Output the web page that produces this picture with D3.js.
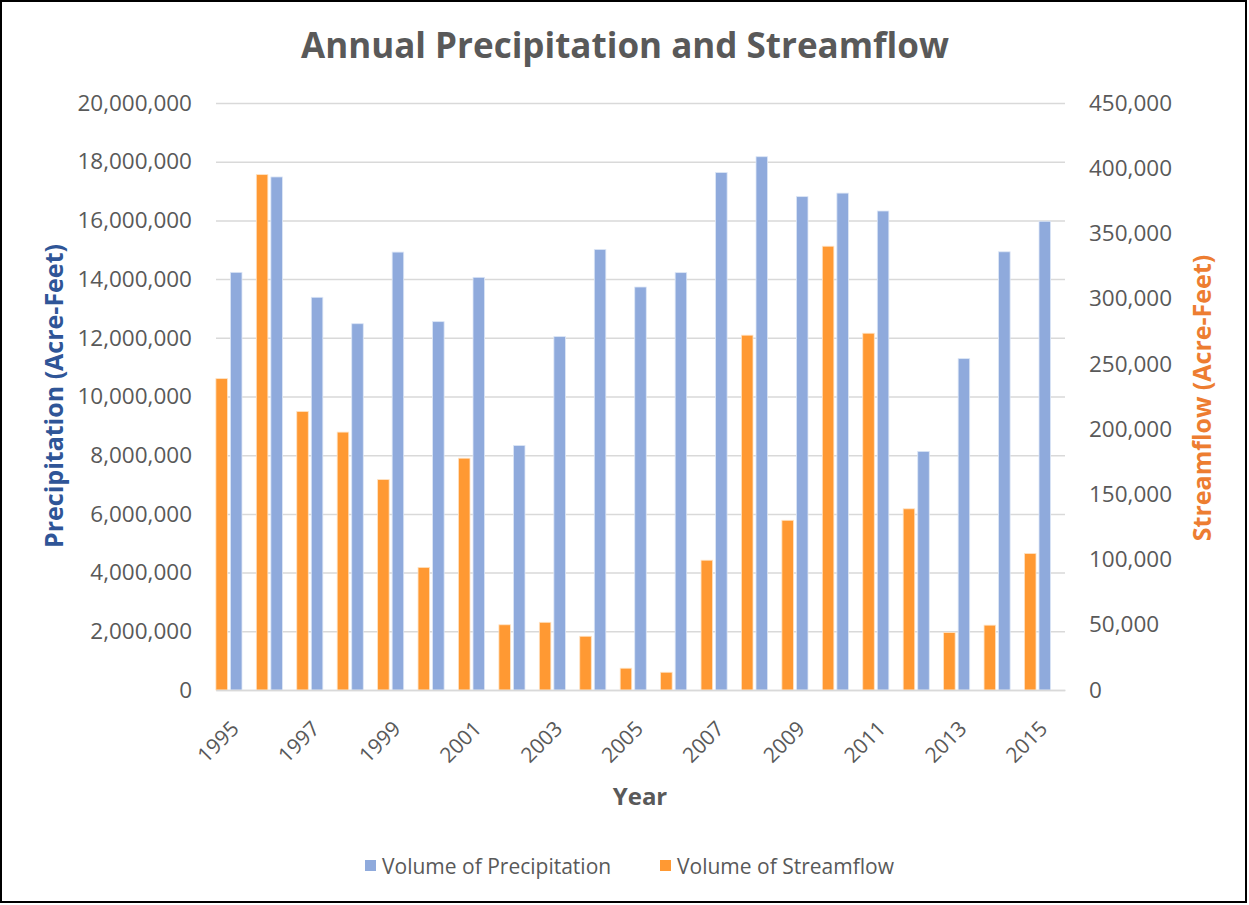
<!DOCTYPE html>
<html>
<head>
<meta charset="utf-8">
<script src="https://cdn.jsdelivr.net/npm/d3@7"></script>
<style>
  html, body { margin: 0; padding: 0; background: #fff; }
  svg { display: block; font-family: "Open Sans", "Noto Sans", sans-serif; }
</style>
</head>
<body>
<svg id="chart" width="1249" height="905"></svg>
<script>
const years = [1995,1996,1997,1998,1999,2000,2001,2002,2003,2004,2005,2006,2007,2008,2009,2010,2011,2012,2013,2014,2015];
const precipitation = [14230000,17480000,13380000,12480000,14920000,12550000,14060000,8330000,12040000,15010000,13730000,14220000,17630000,18170000,16810000,16930000,16320000,8130000,11290000,14930000,15970000];
const streamflow = [238700,395100,213500,197700,161300,94000,177700,50000,51900,41200,16700,13600,99500,272000,130100,340200,273500,138900,44000,49700,104600];
const leftTicks = [0,2000000,4000000,6000000,8000000,10000000,12000000,14000000,16000000,18000000,20000000];
const rightTicks = [0,50000,100000,150000,200000,250000,300000,350000,400000,450000];
const yearLabels = [1995,1997,1999,2001,2003,2005,2007,2009,2011,2013,2015];
const seriesNames = ["Volume of Precipitation", "Volume of Streamflow"];

const blue = "#8FAADC", orange = "#FF9933", textGrey = "#595959";
const svg = d3.select("#chart");

// frame
svg.append("rect").attr("x",1).attr("y",1).attr("width",1245).attr("height",901)
  .attr("fill","#fff").attr("stroke","#000").attr("stroke-width",2);

const plotLeft = 216, plotRight = 1065, plotTop = 103, plotBottom = 690;
const x = d3.scaleBand().domain(years).range([plotLeft,plotRight]).padding(0);
const yL = d3.scaleLinear().domain([0,20000000]).range([plotBottom,plotTop]);
const yR = d3.scaleLinear().domain([0,450000]).range([plotBottom,plotTop]);

// gridlines
svg.append("g").attr("transform",`translate(${plotLeft},0)`)
  .call(d3.axisLeft(yL).tickValues(leftTicks).tickSize(-(plotRight-plotLeft)).tickFormat(""))
  .call(g => g.select(".domain").remove())
  .call(g => g.selectAll("line").attr("stroke","#D9D9D9").attr("stroke-width",1.5));

// left axis labels
svg.append("g").attr("transform",`translate(${plotLeft},0)`)
  .call(d3.axisLeft(yL).tickValues(leftTicks).tickSize(0).tickPadding(24).tickFormat(d3.format(",")))
  .call(g => g.select(".domain").remove())
  .call(g => g.selectAll("text").attr("fill",textGrey).style("font-size","22.5px").style("font-family","'Open Sans', sans-serif"));

// right axis labels
svg.append("g").attr("transform",`translate(${plotRight},0)`)
  .call(d3.axisRight(yR).tickValues(rightTicks).tickSize(0).tickPadding(24).tickFormat(d3.format(",")))
  .call(g => g.select(".domain").remove())
  .call(g => g.selectAll("text").attr("fill",textGrey).style("font-size","22.5px").style("font-family","'Open Sans', sans-serif"));

const bw = x.bandwidth();
const barW = bw * 0.285;
const shift = bw * 0.36;

// streamflow bars (secondary axis)
svg.append("g").selectAll("rect").data(years).join("rect")
  .attr("x", (d,i) => x(d) + bw/2 - shift - barW/2)
  .attr("y", (d,i) => yR(streamflow[i]))
  .attr("width", barW)
  .attr("height", (d,i) => yR(0) - yR(streamflow[i]))
  .attr("fill", orange).attr("stroke","#FFE3C4").attr("stroke-width",0.8);

// precipitation bars (primary axis)
svg.append("g").selectAll("rect").data(years).join("rect")
  .attr("x", (d,i) => x(d) + bw/2 - barW/2)
  .attr("y", (d,i) => yL(precipitation[i]))
  .attr("width", barW)
  .attr("height", (d,i) => yL(0) - yL(precipitation[i]))
  .attr("fill", blue).attr("stroke","#DCE6F6").attr("stroke-width",0.8);

// x axis
const xAxis = svg.append("g").attr("transform",`translate(0,${plotBottom})`)
  .call(d3.axisBottom(x).tickValues(yearLabels).tickSize(0).tickPadding(0))
  .call(g => g.select(".domain").attr("stroke","#D9D9D9").attr("stroke-width",1.5));
xAxis.selectAll("text")
  .attr("fill",textGrey).style("font-size","21px").style("font-family","'Open Sans', sans-serif")
  .attr("text-anchor","end")
  .attr("dy",null).attr("y",null)
  .attr("transform","translate(4,40) rotate(-45)");

// title
svg.append("text").attr("x",625).attr("y",58).attr("text-anchor","middle")
  .attr("fill",textGrey).style("font-size","35px").style("font-weight","bold")
  .text("Annual Precipitation and Streamflow");

// axis titles
svg.append("text").attr("transform","translate(63,396) rotate(-90)").attr("text-anchor","middle")
  .attr("fill","#2F5597").style("font-size","25px").style("font-weight","bold")
  .text("Precipitation (Acre-Feet)");
svg.append("text").attr("transform","translate(1211,398) rotate(-90)").attr("text-anchor","middle")
  .attr("fill","#ED7D31").style("font-size","25px").style("font-weight","bold")
  .text("Streamflow (Acre-Feet)");
svg.append("text").attr("x",640).attr("y",805).attr("text-anchor","middle")
  .attr("fill",textGrey).style("font-size","24px").style("font-weight","bold")
  .text("Year");

// legend
const legend = svg.append("g");
const legendItems = [{name: seriesNames[0], color: blue, x: 365}, {name: seriesNames[1], color: orange, x: 660}];
legendItems.forEach(it => {
  legend.append("rect").attr("x",it.x).attr("y",860).attr("width",11).attr("height",11).attr("fill",it.color);
  legend.append("text").attr("x",it.x+17).attr("y",874).attr("fill",textGrey)
    .style("font-size","21px").text(it.name);
});
</script>
</body>
</html>
